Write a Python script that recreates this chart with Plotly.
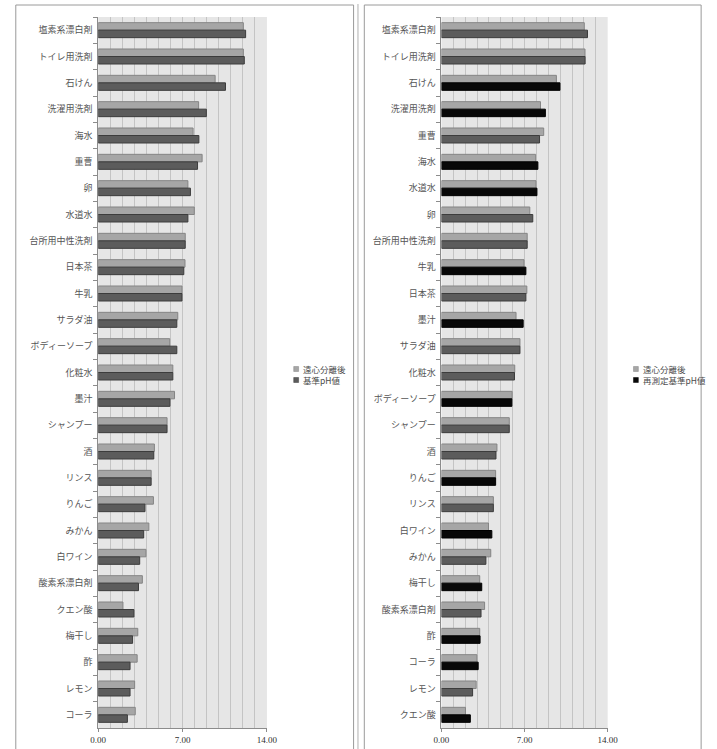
import plotly.graph_objects as go

W, H = 717, 749

# ---------------- data ----------------
cats_left = ["塩素系漂白剤", "トイレ用洗剤", "石けん", "洗濯用洗剤", "海水", "重曹", "卵", "水道水",
             "台所用中性洗剤", "日本茶", "牛乳", "サラダ油", "ボディーソープ", "化粧水", "墨汁",
             "シャンプー", "酒", "リンス", "りんご", "みかん", "白ワイン", "酸素系漂白剤",
             "クエン酸", "梅干し", "酢", "レモン", "コーラ"]
centrifuged_left = [12.04, 12.04, 9.70, 8.33, 7.87, 8.62, 7.44, 7.97, 7.22, 7.20, 6.95, 6.60,
                    5.93, 6.19, 6.33, 5.71, 4.66, 4.39, 4.58, 4.20, 3.96, 3.66, 2.05, 3.28,
                    3.23, 3.02, 3.07]
baseline_left = [12.23, 12.12, 10.56, 8.97, 8.35, 8.24, 7.65, 7.44, 7.22, 7.10, 6.95, 6.52,
                 6.52, 6.19, 5.95, 5.71, 4.61, 4.39, 3.88, 3.77, 3.44, 3.34, 2.96, 2.85,
                 2.64, 2.64, 2.42]

cats_right = ["塩素系漂白剤", "トイレ用洗剤", "石けん", "洗濯用洗剤", "重曹", "海水", "水道水", "卵",
              "台所用中性洗剤", "牛乳", "日本茶", "墨汁", "サラダ油", "化粧水", "ボディーソープ",
              "シャンプー", "酒", "りんご", "リンス", "白ワイン", "みかん", "梅干し", "酸素系漂白剤",
              "酢", "コーラ", "レモン", "クエン酸"]
centrifuged_right = [12.03, 12.09, 9.68, 8.34, 8.61, 7.93, 7.96, 7.44, 7.22, 6.95, 7.19, 6.28,
                     6.61, 6.17, 5.95, 5.71, 4.67, 4.56, 4.37, 3.96, 4.15, 3.22, 3.63, 3.22,
                     2.98, 2.92, 2.02]
remeasured_right = [12.30, 12.10, 9.98, 8.75, 8.26, 8.12, 8.04, 7.69, 7.22, 7.11, 7.11, 6.88,
                    6.61, 6.15, 5.93, 5.71, 4.59, 4.56, 4.37, 4.24, 3.74, 3.39, 3.33, 3.25,
                    3.09, 2.62, 2.43]
remeasured_flag = [0, 0, 1, 1, 0, 1, 1, 0, 0, 1, 0, 1, 0, 0, 1, 0, 0, 1, 0, 1, 0, 1, 0, 1,
                   1, 0, 1]

x_ticks = [0, 7, 14]
x_tick_text = ["0.00", "7.00", "14.00"]
legend_left = ["遠心分離後", "基準pH値"]
legend_right = ["遠心分離後", "再測定基準pH値"]

# ---------------- styles ----------------
LIGHT, LIGHT_EDGE = "#a6a6a6", "#858585"
DARK, DARK_EDGE = "#5c5c5c", "#3c3c3c"
BLACK, BLACK_EDGE = "#080808", "#000000"


def px_x(x):
    return x / W


def px_y(y):
    return 1 - y / H


fig = go.Figure()

fig.add_trace(go.Bar(orientation="h", y=cats_left, x=centrifuged_left, name=legend_left[0],
                     marker=dict(color=LIGHT, line=dict(color=LIGHT_EDGE, width=1)),
                     xaxis="x", yaxis="y", showlegend=False))
fig.add_trace(go.Bar(orientation="h", y=cats_left, x=baseline_left, name=legend_left[1],
                     marker=dict(color=DARK, line=dict(color=DARK_EDGE, width=1)),
                     xaxis="x", yaxis="y", showlegend=False))

right_colors = [BLACK if f else DARK for f in remeasured_flag]
right_edges = [BLACK_EDGE if f else DARK_EDGE for f in remeasured_flag]
fig.add_trace(go.Bar(orientation="h", y=cats_right, x=centrifuged_right, name=legend_right[0],
                     marker=dict(color=LIGHT, line=dict(color=LIGHT_EDGE, width=1)),
                     xaxis="x2", yaxis="y2", showlegend=False))
fig.add_trace(go.Bar(orientation="h", y=cats_right, x=remeasured_right, name=legend_right[1],
                     marker=dict(color=right_colors, line=dict(color=right_edges, width=1)),
                     xaxis="x2", yaxis="y2", showlegend=False))

ydom = [px_y(728), px_y(17)]
grid_col = "#c4c4c4"
axis_col = "#8c8c8c"


def xaxis_cfg(domain, anchor):
    return dict(domain=domain, anchor=anchor, range=[0, 14], tickvals=x_ticks, ticktext=x_tick_text,
                showgrid=True, gridcolor=grid_col, gridwidth=1, zeroline=False,
                minor=dict(tick0=0, dtick=1, showgrid=True, gridcolor=grid_col, gridwidth=1),
                showline=True, linecolor=axis_col, linewidth=1,
                ticks="outside", ticklen=3, tickcolor=axis_col,
                tickfont=dict(family="Liberation Serif", size=9, color="#303030"),
                fixedrange=True)


def yaxis_cfg(cats, anchor):
    return dict(domain=ydom, anchor=anchor, type="category", categoryorder="array",
                categoryarray=cats, autorange="reversed", tickson="boundaries",
                ticks="outside", ticklen=4, tickcolor=axis_col, showgrid=False,
                showline=True, linecolor=axis_col, linewidth=1, ticklabelstandoff=3,
                tickfont=dict(family="Noto Sans CJK JP", size=9, color="#555555"),
                fixedrange=True)


fig.update_layout(
    width=W, height=H, margin=dict(l=0, r=0, t=0, b=0),
    paper_bgcolor="white", plot_bgcolor="#e6e6e6",
    barmode="group", bargap=0.43, bargroupgap=0,
    xaxis=xaxis_cfg([px_x(92.7), px_x(266)], "y"),
    yaxis=yaxis_cfg(cats_left, "x"),
    xaxis2=xaxis_cfg([px_x(445.3), px_x(616)], "y2"),
    yaxis2=yaxis_cfg(cats_right, "x2"),
    showlegend=False,
)

# chart frames
shapes = []
frame_col = "#9a9a9a"
shapes.append(dict(type="rect", xref="paper", yref="paper", x0=px_x(8), x1=px_x(355),
                   y0=px_y(752), y1=px_y(5), line=dict(color=frame_col, width=1)))
shapes.append(dict(type="line", xref="paper", yref="paper", x0=px_x(359.5), x1=px_x(359.5),
                   y0=px_y(752), y1=px_y(4), line=dict(color="#b0b0b0", width=1)))
shapes.append(dict(type="rect", xref="paper", yref="paper", x0=px_x(366), x1=px_x(712),
                   y0=px_y(752), y1=px_y(5), line=dict(color=frame_col, width=1)))

# manual legends
annotations = []
legend_specs = [
    (296, legend_left, [(LIGHT, LIGHT_EDGE), (DARK, DARK_EDGE)]),
    (645, legend_right, [(LIGHT, LIGHT_EDGE), (BLACK, BLACK_EDGE)]),
]
for lx, labels, cols in legend_specs:
    for i, (lab, (fc, ec)) in enumerate(zip(labels, cols)):
        cy = 369 + i * 11
        shapes.append(dict(type="rect", xref="paper", yref="paper",
                           x0=px_x(lx - 2.5), x1=px_x(lx + 2.5), y0=px_y(cy + 2.5), y1=px_y(cy - 2.5),
                           fillcolor=fc, line=dict(color=ec, width=0.5)))
        annotations.append(dict(xref="paper", yref="paper", x=px_x(lx + 5), y=px_y(cy),
                                xanchor="left", yanchor="middle", showarrow=False, text=lab,
                                font=dict(family="Noto Sans CJK JP", size=8.5, color="#4a4a4a")))

fig.update_layout(shapes=shapes, annotations=annotations)

fig.write_html("out.html")
